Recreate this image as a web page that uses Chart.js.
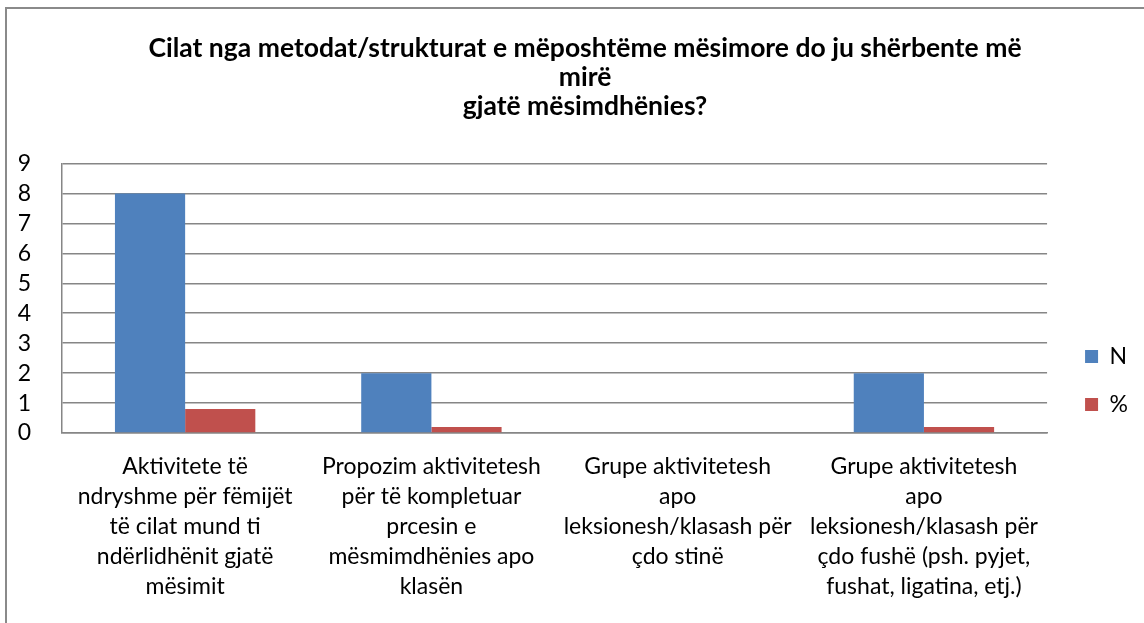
<!DOCTYPE html>
<html>
<head>
<meta charset="utf-8">
<script src="https://cdn.jsdelivr.net/npm/chart.js@4"></script>
<style>
  html, body { margin: 0; padding: 0; background: #fff; }
  #frame {
    position: absolute; left: 5px; top: 7px; width: 1300px; height: 800px;
    border-left: 2px solid #8a8a8a; border-top: 2px solid #8a8a8a;
  }
  #wrap { position: absolute; left: 0; top: 0; width: 1144px; height: 623px; }
</style>
</head>
<body>
<div id="frame"></div>
<div id="wrap"><canvas id="chart" width="1144" height="623"></canvas></div>
<script>
const titleLines = [
  'Cilat nga metodat/strukturat e mëposhtëme mësimore do ju shërbente më',
  'mirë',
  'gjatë mësimdhënies?'
];

const categories = [
  ['Aktivitete të', 'ndryshme për fëmijët', 'të cilat mund ti', 'ndërlidhënit gjatë', 'mësimit'],
  ['Propozim aktivitetesh', 'për të kompletuar', 'prcesin e', 'mësmimdhënies apo', 'klasën'],
  ['Grupe aktivitetesh', 'apo', 'leksionesh/klasash për', 'çdo stinë'],
  ['Grupe aktivitetesh', 'apo', 'leksionesh/klasash për', 'çdo fushë (psh. pyjet,', 'fushat, ligatina, etj.)']
];

const countValues = [8, 2, 0, 2];
const percentValues = [0.8, 0.2, 0, 0.2];

const yTicks = [0, 1, 2, 3, 4, 5, 6, 7, 8, 9];

const FONT = 'Lato, "Open Sans", sans-serif';
const GRID = '#868686';

// nudge title and legend sideways to sit where the original has them
const nudge = {
  id: 'nudge',
  afterLayout(chart) {
    if (chart.titleBlock) chart.titleBlock.left += 45;
    if (chart.legend) {
      chart.legend.left += 13;
      chart.legend.right += 13;
    }
  }
};

new Chart(document.getElementById('chart'), {
  type: 'bar',
  data: {
    labels: categories,
    datasets: [
      {
        label: 'N',
        data: countValues,
        backgroundColor: '#4F81BD',
        categoryPercentage: 0.57,
        barPercentage: 1.0
      },
      {
        label: '%',
        data: percentValues,
        backgroundColor: '#C0504D',
        categoryPercentage: 0.57,
        barPercentage: 1.0
      }
    ]
  },
  options: {
    responsive: false,
    animation: false,
    devicePixelRatio: 1,
    layout: { padding: { left: 0, right: 19, top: 0, bottom: 2 } },
    scales: {
      x: {
        grid: { display: false, drawTicks: false },
        border: { display: true, color: GRID, width: 1.5 },
        ticks: {
          color: '#000',
          font: { family: FONT, size: 23, lineHeight: 1.304 },
          maxRotation: 0,
          autoSkip: false,
          padding: 19
        }
      },
      y: {
        min: 0,
        max: 9,
        afterBuildTicks(scale) {
          scale.ticks = yTicks.map((v) => ({ value: v }));
        },
        afterFit(scale) {
          scale.width = 62;
        },
        grid: { color: GRID, lineWidth: 1.5, drawTicks: false },
        border: { display: true, color: GRID, width: 1.5 },
        ticks: {
          color: '#000',
          font: { family: FONT, size: 23 },
          autoSkip: false,
          padding: 31
        }
      }
    },
    plugins: {
      title: {
        display: true,
        text: titleLines,
        color: '#000',
        font: { family: FONT, size: 26.5, weight: 'bold', lineHeight: 1.094 },
        padding: { top: 33.5, bottom: 43 }
      },
      legend: {
        position: 'right',
        title: {
          display: true,
          text: ' ',
          font: { family: FONT, size: 10, lineHeight: 1.2 },
          padding: { top: 0, bottom: 128 }
        },
        labels: {
          color: '#000',
          font: { family: FONT, size: 23 },
          boxWidth: 13,
          boxHeight: 13,
          padding: 25
        }
      },
      tooltip: { enabled: false }
    }
  },
  plugins: [nudge]
});
</script>
</body>
</html>
